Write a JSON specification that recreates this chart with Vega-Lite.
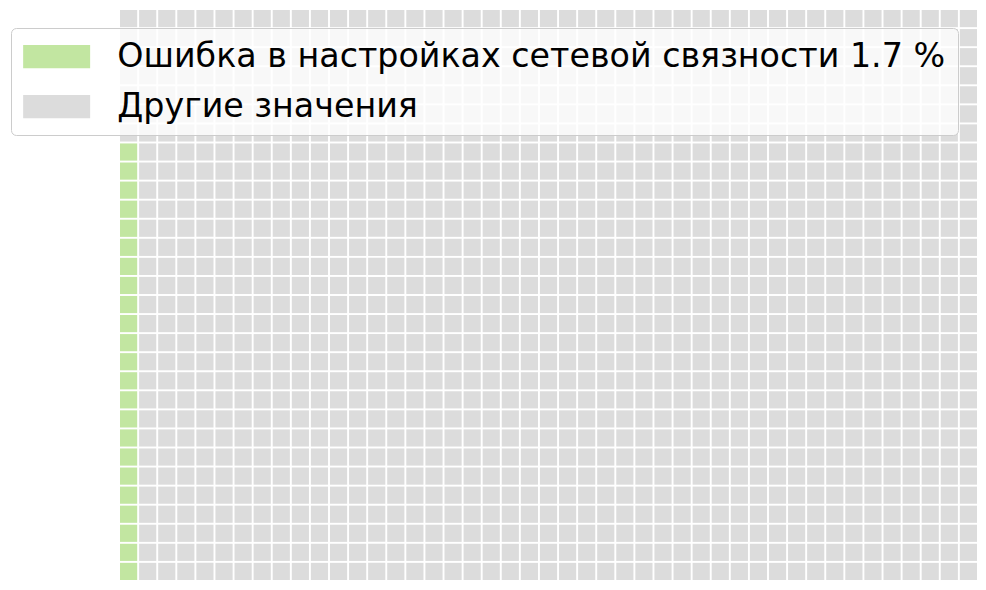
{
"$schema":"https://vega.github.io/schema/vega-lite/v6.json",
"width":857,"height":570,
"autosize":{"type":"none"},
"padding":{"left":120,"top":10,"right":9,"bottom":10},
"background":"white",
"datasets":{"cats":[{"k":1,"name":"Ошибка в настройках сетевой связности 1.7 %"},{"k":0,"name":"Другие значения"}]},
"data":{"values":[
{"c":0,"r":0,"k":0},{"c":0,"r":1,"k":0},{"c":0,"r":2,"k":0},{"c":0,"r":3,"k":0},{"c":0,"r":4,"k":0},{"c":0,"r":5,"k":0},{"c":0,"r":6,"k":0},{"c":0,"r":7,"k":1},{"c":0,"r":8,"k":1},{"c":0,"r":9,"k":1},{"c":0,"r":10,"k":1},{"c":0,"r":11,"k":1},{"c":0,"r":12,"k":1},{"c":0,"r":13,"k":1},{"c":0,"r":14,"k":1},{"c":0,"r":15,"k":1},{"c":0,"r":16,"k":1},{"c":0,"r":17,"k":1},{"c":0,"r":18,"k":1},{"c":0,"r":19,"k":1},{"c":0,"r":20,"k":1},{"c":0,"r":21,"k":1},{"c":0,"r":22,"k":1},{"c":0,"r":23,"k":1},{"c":0,"r":24,"k":1},{"c":0,"r":25,"k":1},{"c":0,"r":26,"k":1},{"c":0,"r":27,"k":1},{"c":0,"r":28,"k":1},{"c":0,"r":29,"k":1},
{"c":1,"r":0,"k":0},{"c":1,"r":1,"k":0},{"c":1,"r":2,"k":0},{"c":1,"r":3,"k":0},{"c":1,"r":4,"k":0},{"c":1,"r":5,"k":0},{"c":1,"r":6,"k":0},{"c":1,"r":7,"k":0},{"c":1,"r":8,"k":0},{"c":1,"r":9,"k":0},{"c":1,"r":10,"k":0},{"c":1,"r":11,"k":0},{"c":1,"r":12,"k":0},{"c":1,"r":13,"k":0},{"c":1,"r":14,"k":0},{"c":1,"r":15,"k":0},{"c":1,"r":16,"k":0},{"c":1,"r":17,"k":0},{"c":1,"r":18,"k":0},{"c":1,"r":19,"k":0},{"c":1,"r":20,"k":0},{"c":1,"r":21,"k":0},{"c":1,"r":22,"k":0},{"c":1,"r":23,"k":0},{"c":1,"r":24,"k":0},{"c":1,"r":25,"k":0},{"c":1,"r":26,"k":0},{"c":1,"r":27,"k":0},{"c":1,"r":28,"k":0},{"c":1,"r":29,"k":0},
{"c":2,"r":0,"k":0},{"c":2,"r":1,"k":0},{"c":2,"r":2,"k":0},{"c":2,"r":3,"k":0},{"c":2,"r":4,"k":0},{"c":2,"r":5,"k":0},{"c":2,"r":6,"k":0},{"c":2,"r":7,"k":0},{"c":2,"r":8,"k":0},{"c":2,"r":9,"k":0},{"c":2,"r":10,"k":0},{"c":2,"r":11,"k":0},{"c":2,"r":12,"k":0},{"c":2,"r":13,"k":0},{"c":2,"r":14,"k":0},{"c":2,"r":15,"k":0},{"c":2,"r":16,"k":0},{"c":2,"r":17,"k":0},{"c":2,"r":18,"k":0},{"c":2,"r":19,"k":0},{"c":2,"r":20,"k":0},{"c":2,"r":21,"k":0},{"c":2,"r":22,"k":0},{"c":2,"r":23,"k":0},{"c":2,"r":24,"k":0},{"c":2,"r":25,"k":0},{"c":2,"r":26,"k":0},{"c":2,"r":27,"k":0},{"c":2,"r":28,"k":0},{"c":2,"r":29,"k":0},
{"c":3,"r":0,"k":0},{"c":3,"r":1,"k":0},{"c":3,"r":2,"k":0},{"c":3,"r":3,"k":0},{"c":3,"r":4,"k":0},{"c":3,"r":5,"k":0},{"c":3,"r":6,"k":0},{"c":3,"r":7,"k":0},{"c":3,"r":8,"k":0},{"c":3,"r":9,"k":0},{"c":3,"r":10,"k":0},{"c":3,"r":11,"k":0},{"c":3,"r":12,"k":0},{"c":3,"r":13,"k":0},{"c":3,"r":14,"k":0},{"c":3,"r":15,"k":0},{"c":3,"r":16,"k":0},{"c":3,"r":17,"k":0},{"c":3,"r":18,"k":0},{"c":3,"r":19,"k":0},{"c":3,"r":20,"k":0},{"c":3,"r":21,"k":0},{"c":3,"r":22,"k":0},{"c":3,"r":23,"k":0},{"c":3,"r":24,"k":0},{"c":3,"r":25,"k":0},{"c":3,"r":26,"k":0},{"c":3,"r":27,"k":0},{"c":3,"r":28,"k":0},{"c":3,"r":29,"k":0},
{"c":4,"r":0,"k":0},{"c":4,"r":1,"k":0},{"c":4,"r":2,"k":0},{"c":4,"r":3,"k":0},{"c":4,"r":4,"k":0},{"c":4,"r":5,"k":0},{"c":4,"r":6,"k":0},{"c":4,"r":7,"k":0},{"c":4,"r":8,"k":0},{"c":4,"r":9,"k":0},{"c":4,"r":10,"k":0},{"c":4,"r":11,"k":0},{"c":4,"r":12,"k":0},{"c":4,"r":13,"k":0},{"c":4,"r":14,"k":0},{"c":4,"r":15,"k":0},{"c":4,"r":16,"k":0},{"c":4,"r":17,"k":0},{"c":4,"r":18,"k":0},{"c":4,"r":19,"k":0},{"c":4,"r":20,"k":0},{"c":4,"r":21,"k":0},{"c":4,"r":22,"k":0},{"c":4,"r":23,"k":0},{"c":4,"r":24,"k":0},{"c":4,"r":25,"k":0},{"c":4,"r":26,"k":0},{"c":4,"r":27,"k":0},{"c":4,"r":28,"k":0},{"c":4,"r":29,"k":0},
{"c":5,"r":0,"k":0},{"c":5,"r":1,"k":0},{"c":5,"r":2,"k":0},{"c":5,"r":3,"k":0},{"c":5,"r":4,"k":0},{"c":5,"r":5,"k":0},{"c":5,"r":6,"k":0},{"c":5,"r":7,"k":0},{"c":5,"r":8,"k":0},{"c":5,"r":9,"k":0},{"c":5,"r":10,"k":0},{"c":5,"r":11,"k":0},{"c":5,"r":12,"k":0},{"c":5,"r":13,"k":0},{"c":5,"r":14,"k":0},{"c":5,"r":15,"k":0},{"c":5,"r":16,"k":0},{"c":5,"r":17,"k":0},{"c":5,"r":18,"k":0},{"c":5,"r":19,"k":0},{"c":5,"r":20,"k":0},{"c":5,"r":21,"k":0},{"c":5,"r":22,"k":0},{"c":5,"r":23,"k":0},{"c":5,"r":24,"k":0},{"c":5,"r":25,"k":0},{"c":5,"r":26,"k":0},{"c":5,"r":27,"k":0},{"c":5,"r":28,"k":0},{"c":5,"r":29,"k":0},
{"c":6,"r":0,"k":0},{"c":6,"r":1,"k":0},{"c":6,"r":2,"k":0},{"c":6,"r":3,"k":0},{"c":6,"r":4,"k":0},{"c":6,"r":5,"k":0},{"c":6,"r":6,"k":0},{"c":6,"r":7,"k":0},{"c":6,"r":8,"k":0},{"c":6,"r":9,"k":0},{"c":6,"r":10,"k":0},{"c":6,"r":11,"k":0},{"c":6,"r":12,"k":0},{"c":6,"r":13,"k":0},{"c":6,"r":14,"k":0},{"c":6,"r":15,"k":0},{"c":6,"r":16,"k":0},{"c":6,"r":17,"k":0},{"c":6,"r":18,"k":0},{"c":6,"r":19,"k":0},{"c":6,"r":20,"k":0},{"c":6,"r":21,"k":0},{"c":6,"r":22,"k":0},{"c":6,"r":23,"k":0},{"c":6,"r":24,"k":0},{"c":6,"r":25,"k":0},{"c":6,"r":26,"k":0},{"c":6,"r":27,"k":0},{"c":6,"r":28,"k":0},{"c":6,"r":29,"k":0},
{"c":7,"r":0,"k":0},{"c":7,"r":1,"k":0},{"c":7,"r":2,"k":0},{"c":7,"r":3,"k":0},{"c":7,"r":4,"k":0},{"c":7,"r":5,"k":0},{"c":7,"r":6,"k":0},{"c":7,"r":7,"k":0},{"c":7,"r":8,"k":0},{"c":7,"r":9,"k":0},{"c":7,"r":10,"k":0},{"c":7,"r":11,"k":0},{"c":7,"r":12,"k":0},{"c":7,"r":13,"k":0},{"c":7,"r":14,"k":0},{"c":7,"r":15,"k":0},{"c":7,"r":16,"k":0},{"c":7,"r":17,"k":0},{"c":7,"r":18,"k":0},{"c":7,"r":19,"k":0},{"c":7,"r":20,"k":0},{"c":7,"r":21,"k":0},{"c":7,"r":22,"k":0},{"c":7,"r":23,"k":0},{"c":7,"r":24,"k":0},{"c":7,"r":25,"k":0},{"c":7,"r":26,"k":0},{"c":7,"r":27,"k":0},{"c":7,"r":28,"k":0},{"c":7,"r":29,"k":0},
{"c":8,"r":0,"k":0},{"c":8,"r":1,"k":0},{"c":8,"r":2,"k":0},{"c":8,"r":3,"k":0},{"c":8,"r":4,"k":0},{"c":8,"r":5,"k":0},{"c":8,"r":6,"k":0},{"c":8,"r":7,"k":0},{"c":8,"r":8,"k":0},{"c":8,"r":9,"k":0},{"c":8,"r":10,"k":0},{"c":8,"r":11,"k":0},{"c":8,"r":12,"k":0},{"c":8,"r":13,"k":0},{"c":8,"r":14,"k":0},{"c":8,"r":15,"k":0},{"c":8,"r":16,"k":0},{"c":8,"r":17,"k":0},{"c":8,"r":18,"k":0},{"c":8,"r":19,"k":0},{"c":8,"r":20,"k":0},{"c":8,"r":21,"k":0},{"c":8,"r":22,"k":0},{"c":8,"r":23,"k":0},{"c":8,"r":24,"k":0},{"c":8,"r":25,"k":0},{"c":8,"r":26,"k":0},{"c":8,"r":27,"k":0},{"c":8,"r":28,"k":0},{"c":8,"r":29,"k":0},
{"c":9,"r":0,"k":0},{"c":9,"r":1,"k":0},{"c":9,"r":2,"k":0},{"c":9,"r":3,"k":0},{"c":9,"r":4,"k":0},{"c":9,"r":5,"k":0},{"c":9,"r":6,"k":0},{"c":9,"r":7,"k":0},{"c":9,"r":8,"k":0},{"c":9,"r":9,"k":0},{"c":9,"r":10,"k":0},{"c":9,"r":11,"k":0},{"c":9,"r":12,"k":0},{"c":9,"r":13,"k":0},{"c":9,"r":14,"k":0},{"c":9,"r":15,"k":0},{"c":9,"r":16,"k":0},{"c":9,"r":17,"k":0},{"c":9,"r":18,"k":0},{"c":9,"r":19,"k":0},{"c":9,"r":20,"k":0},{"c":9,"r":21,"k":0},{"c":9,"r":22,"k":0},{"c":9,"r":23,"k":0},{"c":9,"r":24,"k":0},{"c":9,"r":25,"k":0},{"c":9,"r":26,"k":0},{"c":9,"r":27,"k":0},{"c":9,"r":28,"k":0},{"c":9,"r":29,"k":0},
{"c":10,"r":0,"k":0},{"c":10,"r":1,"k":0},{"c":10,"r":2,"k":0},{"c":10,"r":3,"k":0},{"c":10,"r":4,"k":0},{"c":10,"r":5,"k":0},{"c":10,"r":6,"k":0},{"c":10,"r":7,"k":0},{"c":10,"r":8,"k":0},{"c":10,"r":9,"k":0},{"c":10,"r":10,"k":0},{"c":10,"r":11,"k":0},{"c":10,"r":12,"k":0},{"c":10,"r":13,"k":0},{"c":10,"r":14,"k":0},{"c":10,"r":15,"k":0},{"c":10,"r":16,"k":0},{"c":10,"r":17,"k":0},{"c":10,"r":18,"k":0},{"c":10,"r":19,"k":0},{"c":10,"r":20,"k":0},{"c":10,"r":21,"k":0},{"c":10,"r":22,"k":0},{"c":10,"r":23,"k":0},{"c":10,"r":24,"k":0},{"c":10,"r":25,"k":0},{"c":10,"r":26,"k":0},{"c":10,"r":27,"k":0},{"c":10,"r":28,"k":0},{"c":10,"r":29,"k":0},
{"c":11,"r":0,"k":0},{"c":11,"r":1,"k":0},{"c":11,"r":2,"k":0},{"c":11,"r":3,"k":0},{"c":11,"r":4,"k":0},{"c":11,"r":5,"k":0},{"c":11,"r":6,"k":0},{"c":11,"r":7,"k":0},{"c":11,"r":8,"k":0},{"c":11,"r":9,"k":0},{"c":11,"r":10,"k":0},{"c":11,"r":11,"k":0},{"c":11,"r":12,"k":0},{"c":11,"r":13,"k":0},{"c":11,"r":14,"k":0},{"c":11,"r":15,"k":0},{"c":11,"r":16,"k":0},{"c":11,"r":17,"k":0},{"c":11,"r":18,"k":0},{"c":11,"r":19,"k":0},{"c":11,"r":20,"k":0},{"c":11,"r":21,"k":0},{"c":11,"r":22,"k":0},{"c":11,"r":23,"k":0},{"c":11,"r":24,"k":0},{"c":11,"r":25,"k":0},{"c":11,"r":26,"k":0},{"c":11,"r":27,"k":0},{"c":11,"r":28,"k":0},{"c":11,"r":29,"k":0},
{"c":12,"r":0,"k":0},{"c":12,"r":1,"k":0},{"c":12,"r":2,"k":0},{"c":12,"r":3,"k":0},{"c":12,"r":4,"k":0},{"c":12,"r":5,"k":0},{"c":12,"r":6,"k":0},{"c":12,"r":7,"k":0},{"c":12,"r":8,"k":0},{"c":12,"r":9,"k":0},{"c":12,"r":10,"k":0},{"c":12,"r":11,"k":0},{"c":12,"r":12,"k":0},{"c":12,"r":13,"k":0},{"c":12,"r":14,"k":0},{"c":12,"r":15,"k":0},{"c":12,"r":16,"k":0},{"c":12,"r":17,"k":0},{"c":12,"r":18,"k":0},{"c":12,"r":19,"k":0},{"c":12,"r":20,"k":0},{"c":12,"r":21,"k":0},{"c":12,"r":22,"k":0},{"c":12,"r":23,"k":0},{"c":12,"r":24,"k":0},{"c":12,"r":25,"k":0},{"c":12,"r":26,"k":0},{"c":12,"r":27,"k":0},{"c":12,"r":28,"k":0},{"c":12,"r":29,"k":0},
{"c":13,"r":0,"k":0},{"c":13,"r":1,"k":0},{"c":13,"r":2,"k":0},{"c":13,"r":3,"k":0},{"c":13,"r":4,"k":0},{"c":13,"r":5,"k":0},{"c":13,"r":6,"k":0},{"c":13,"r":7,"k":0},{"c":13,"r":8,"k":0},{"c":13,"r":9,"k":0},{"c":13,"r":10,"k":0},{"c":13,"r":11,"k":0},{"c":13,"r":12,"k":0},{"c":13,"r":13,"k":0},{"c":13,"r":14,"k":0},{"c":13,"r":15,"k":0},{"c":13,"r":16,"k":0},{"c":13,"r":17,"k":0},{"c":13,"r":18,"k":0},{"c":13,"r":19,"k":0},{"c":13,"r":20,"k":0},{"c":13,"r":21,"k":0},{"c":13,"r":22,"k":0},{"c":13,"r":23,"k":0},{"c":13,"r":24,"k":0},{"c":13,"r":25,"k":0},{"c":13,"r":26,"k":0},{"c":13,"r":27,"k":0},{"c":13,"r":28,"k":0},{"c":13,"r":29,"k":0},
{"c":14,"r":0,"k":0},{"c":14,"r":1,"k":0},{"c":14,"r":2,"k":0},{"c":14,"r":3,"k":0},{"c":14,"r":4,"k":0},{"c":14,"r":5,"k":0},{"c":14,"r":6,"k":0},{"c":14,"r":7,"k":0},{"c":14,"r":8,"k":0},{"c":14,"r":9,"k":0},{"c":14,"r":10,"k":0},{"c":14,"r":11,"k":0},{"c":14,"r":12,"k":0},{"c":14,"r":13,"k":0},{"c":14,"r":14,"k":0},{"c":14,"r":15,"k":0},{"c":14,"r":16,"k":0},{"c":14,"r":17,"k":0},{"c":14,"r":18,"k":0},{"c":14,"r":19,"k":0},{"c":14,"r":20,"k":0},{"c":14,"r":21,"k":0},{"c":14,"r":22,"k":0},{"c":14,"r":23,"k":0},{"c":14,"r":24,"k":0},{"c":14,"r":25,"k":0},{"c":14,"r":26,"k":0},{"c":14,"r":27,"k":0},{"c":14,"r":28,"k":0},{"c":14,"r":29,"k":0},
{"c":15,"r":0,"k":0},{"c":15,"r":1,"k":0},{"c":15,"r":2,"k":0},{"c":15,"r":3,"k":0},{"c":15,"r":4,"k":0},{"c":15,"r":5,"k":0},{"c":15,"r":6,"k":0},{"c":15,"r":7,"k":0},{"c":15,"r":8,"k":0},{"c":15,"r":9,"k":0},{"c":15,"r":10,"k":0},{"c":15,"r":11,"k":0},{"c":15,"r":12,"k":0},{"c":15,"r":13,"k":0},{"c":15,"r":14,"k":0},{"c":15,"r":15,"k":0},{"c":15,"r":16,"k":0},{"c":15,"r":17,"k":0},{"c":15,"r":18,"k":0},{"c":15,"r":19,"k":0},{"c":15,"r":20,"k":0},{"c":15,"r":21,"k":0},{"c":15,"r":22,"k":0},{"c":15,"r":23,"k":0},{"c":15,"r":24,"k":0},{"c":15,"r":25,"k":0},{"c":15,"r":26,"k":0},{"c":15,"r":27,"k":0},{"c":15,"r":28,"k":0},{"c":15,"r":29,"k":0},
{"c":16,"r":0,"k":0},{"c":16,"r":1,"k":0},{"c":16,"r":2,"k":0},{"c":16,"r":3,"k":0},{"c":16,"r":4,"k":0},{"c":16,"r":5,"k":0},{"c":16,"r":6,"k":0},{"c":16,"r":7,"k":0},{"c":16,"r":8,"k":0},{"c":16,"r":9,"k":0},{"c":16,"r":10,"k":0},{"c":16,"r":11,"k":0},{"c":16,"r":12,"k":0},{"c":16,"r":13,"k":0},{"c":16,"r":14,"k":0},{"c":16,"r":15,"k":0},{"c":16,"r":16,"k":0},{"c":16,"r":17,"k":0},{"c":16,"r":18,"k":0},{"c":16,"r":19,"k":0},{"c":16,"r":20,"k":0},{"c":16,"r":21,"k":0},{"c":16,"r":22,"k":0},{"c":16,"r":23,"k":0},{"c":16,"r":24,"k":0},{"c":16,"r":25,"k":0},{"c":16,"r":26,"k":0},{"c":16,"r":27,"k":0},{"c":16,"r":28,"k":0},{"c":16,"r":29,"k":0},
{"c":17,"r":0,"k":0},{"c":17,"r":1,"k":0},{"c":17,"r":2,"k":0},{"c":17,"r":3,"k":0},{"c":17,"r":4,"k":0},{"c":17,"r":5,"k":0},{"c":17,"r":6,"k":0},{"c":17,"r":7,"k":0},{"c":17,"r":8,"k":0},{"c":17,"r":9,"k":0},{"c":17,"r":10,"k":0},{"c":17,"r":11,"k":0},{"c":17,"r":12,"k":0},{"c":17,"r":13,"k":0},{"c":17,"r":14,"k":0},{"c":17,"r":15,"k":0},{"c":17,"r":16,"k":0},{"c":17,"r":17,"k":0},{"c":17,"r":18,"k":0},{"c":17,"r":19,"k":0},{"c":17,"r":20,"k":0},{"c":17,"r":21,"k":0},{"c":17,"r":22,"k":0},{"c":17,"r":23,"k":0},{"c":17,"r":24,"k":0},{"c":17,"r":25,"k":0},{"c":17,"r":26,"k":0},{"c":17,"r":27,"k":0},{"c":17,"r":28,"k":0},{"c":17,"r":29,"k":0},
{"c":18,"r":0,"k":0},{"c":18,"r":1,"k":0},{"c":18,"r":2,"k":0},{"c":18,"r":3,"k":0},{"c":18,"r":4,"k":0},{"c":18,"r":5,"k":0},{"c":18,"r":6,"k":0},{"c":18,"r":7,"k":0},{"c":18,"r":8,"k":0},{"c":18,"r":9,"k":0},{"c":18,"r":10,"k":0},{"c":18,"r":11,"k":0},{"c":18,"r":12,"k":0},{"c":18,"r":13,"k":0},{"c":18,"r":14,"k":0},{"c":18,"r":15,"k":0},{"c":18,"r":16,"k":0},{"c":18,"r":17,"k":0},{"c":18,"r":18,"k":0},{"c":18,"r":19,"k":0},{"c":18,"r":20,"k":0},{"c":18,"r":21,"k":0},{"c":18,"r":22,"k":0},{"c":18,"r":23,"k":0},{"c":18,"r":24,"k":0},{"c":18,"r":25,"k":0},{"c":18,"r":26,"k":0},{"c":18,"r":27,"k":0},{"c":18,"r":28,"k":0},{"c":18,"r":29,"k":0},
{"c":19,"r":0,"k":0},{"c":19,"r":1,"k":0},{"c":19,"r":2,"k":0},{"c":19,"r":3,"k":0},{"c":19,"r":4,"k":0},{"c":19,"r":5,"k":0},{"c":19,"r":6,"k":0},{"c":19,"r":7,"k":0},{"c":19,"r":8,"k":0},{"c":19,"r":9,"k":0},{"c":19,"r":10,"k":0},{"c":19,"r":11,"k":0},{"c":19,"r":12,"k":0},{"c":19,"r":13,"k":0},{"c":19,"r":14,"k":0},{"c":19,"r":15,"k":0},{"c":19,"r":16,"k":0},{"c":19,"r":17,"k":0},{"c":19,"r":18,"k":0},{"c":19,"r":19,"k":0},{"c":19,"r":20,"k":0},{"c":19,"r":21,"k":0},{"c":19,"r":22,"k":0},{"c":19,"r":23,"k":0},{"c":19,"r":24,"k":0},{"c":19,"r":25,"k":0},{"c":19,"r":26,"k":0},{"c":19,"r":27,"k":0},{"c":19,"r":28,"k":0},{"c":19,"r":29,"k":0},
{"c":20,"r":0,"k":0},{"c":20,"r":1,"k":0},{"c":20,"r":2,"k":0},{"c":20,"r":3,"k":0},{"c":20,"r":4,"k":0},{"c":20,"r":5,"k":0},{"c":20,"r":6,"k":0},{"c":20,"r":7,"k":0},{"c":20,"r":8,"k":0},{"c":20,"r":9,"k":0},{"c":20,"r":10,"k":0},{"c":20,"r":11,"k":0},{"c":20,"r":12,"k":0},{"c":20,"r":13,"k":0},{"c":20,"r":14,"k":0},{"c":20,"r":15,"k":0},{"c":20,"r":16,"k":0},{"c":20,"r":17,"k":0},{"c":20,"r":18,"k":0},{"c":20,"r":19,"k":0},{"c":20,"r":20,"k":0},{"c":20,"r":21,"k":0},{"c":20,"r":22,"k":0},{"c":20,"r":23,"k":0},{"c":20,"r":24,"k":0},{"c":20,"r":25,"k":0},{"c":20,"r":26,"k":0},{"c":20,"r":27,"k":0},{"c":20,"r":28,"k":0},{"c":20,"r":29,"k":0},
{"c":21,"r":0,"k":0},{"c":21,"r":1,"k":0},{"c":21,"r":2,"k":0},{"c":21,"r":3,"k":0},{"c":21,"r":4,"k":0},{"c":21,"r":5,"k":0},{"c":21,"r":6,"k":0},{"c":21,"r":7,"k":0},{"c":21,"r":8,"k":0},{"c":21,"r":9,"k":0},{"c":21,"r":10,"k":0},{"c":21,"r":11,"k":0},{"c":21,"r":12,"k":0},{"c":21,"r":13,"k":0},{"c":21,"r":14,"k":0},{"c":21,"r":15,"k":0},{"c":21,"r":16,"k":0},{"c":21,"r":17,"k":0},{"c":21,"r":18,"k":0},{"c":21,"r":19,"k":0},{"c":21,"r":20,"k":0},{"c":21,"r":21,"k":0},{"c":21,"r":22,"k":0},{"c":21,"r":23,"k":0},{"c":21,"r":24,"k":0},{"c":21,"r":25,"k":0},{"c":21,"r":26,"k":0},{"c":21,"r":27,"k":0},{"c":21,"r":28,"k":0},{"c":21,"r":29,"k":0},
{"c":22,"r":0,"k":0},{"c":22,"r":1,"k":0},{"c":22,"r":2,"k":0},{"c":22,"r":3,"k":0},{"c":22,"r":4,"k":0},{"c":22,"r":5,"k":0},{"c":22,"r":6,"k":0},{"c":22,"r":7,"k":0},{"c":22,"r":8,"k":0},{"c":22,"r":9,"k":0},{"c":22,"r":10,"k":0},{"c":22,"r":11,"k":0},{"c":22,"r":12,"k":0},{"c":22,"r":13,"k":0},{"c":22,"r":14,"k":0},{"c":22,"r":15,"k":0},{"c":22,"r":16,"k":0},{"c":22,"r":17,"k":0},{"c":22,"r":18,"k":0},{"c":22,"r":19,"k":0},{"c":22,"r":20,"k":0},{"c":22,"r":21,"k":0},{"c":22,"r":22,"k":0},{"c":22,"r":23,"k":0},{"c":22,"r":24,"k":0},{"c":22,"r":25,"k":0},{"c":22,"r":26,"k":0},{"c":22,"r":27,"k":0},{"c":22,"r":28,"k":0},{"c":22,"r":29,"k":0},
{"c":23,"r":0,"k":0},{"c":23,"r":1,"k":0},{"c":23,"r":2,"k":0},{"c":23,"r":3,"k":0},{"c":23,"r":4,"k":0},{"c":23,"r":5,"k":0},{"c":23,"r":6,"k":0},{"c":23,"r":7,"k":0},{"c":23,"r":8,"k":0},{"c":23,"r":9,"k":0},{"c":23,"r":10,"k":0},{"c":23,"r":11,"k":0},{"c":23,"r":12,"k":0},{"c":23,"r":13,"k":0},{"c":23,"r":14,"k":0},{"c":23,"r":15,"k":0},{"c":23,"r":16,"k":0},{"c":23,"r":17,"k":0},{"c":23,"r":18,"k":0},{"c":23,"r":19,"k":0},{"c":23,"r":20,"k":0},{"c":23,"r":21,"k":0},{"c":23,"r":22,"k":0},{"c":23,"r":23,"k":0},{"c":23,"r":24,"k":0},{"c":23,"r":25,"k":0},{"c":23,"r":26,"k":0},{"c":23,"r":27,"k":0},{"c":23,"r":28,"k":0},{"c":23,"r":29,"k":0},
{"c":24,"r":0,"k":0},{"c":24,"r":1,"k":0},{"c":24,"r":2,"k":0},{"c":24,"r":3,"k":0},{"c":24,"r":4,"k":0},{"c":24,"r":5,"k":0},{"c":24,"r":6,"k":0},{"c":24,"r":7,"k":0},{"c":24,"r":8,"k":0},{"c":24,"r":9,"k":0},{"c":24,"r":10,"k":0},{"c":24,"r":11,"k":0},{"c":24,"r":12,"k":0},{"c":24,"r":13,"k":0},{"c":24,"r":14,"k":0},{"c":24,"r":15,"k":0},{"c":24,"r":16,"k":0},{"c":24,"r":17,"k":0},{"c":24,"r":18,"k":0},{"c":24,"r":19,"k":0},{"c":24,"r":20,"k":0},{"c":24,"r":21,"k":0},{"c":24,"r":22,"k":0},{"c":24,"r":23,"k":0},{"c":24,"r":24,"k":0},{"c":24,"r":25,"k":0},{"c":24,"r":26,"k":0},{"c":24,"r":27,"k":0},{"c":24,"r":28,"k":0},{"c":24,"r":29,"k":0},
{"c":25,"r":0,"k":0},{"c":25,"r":1,"k":0},{"c":25,"r":2,"k":0},{"c":25,"r":3,"k":0},{"c":25,"r":4,"k":0},{"c":25,"r":5,"k":0},{"c":25,"r":6,"k":0},{"c":25,"r":7,"k":0},{"c":25,"r":8,"k":0},{"c":25,"r":9,"k":0},{"c":25,"r":10,"k":0},{"c":25,"r":11,"k":0},{"c":25,"r":12,"k":0},{"c":25,"r":13,"k":0},{"c":25,"r":14,"k":0},{"c":25,"r":15,"k":0},{"c":25,"r":16,"k":0},{"c":25,"r":17,"k":0},{"c":25,"r":18,"k":0},{"c":25,"r":19,"k":0},{"c":25,"r":20,"k":0},{"c":25,"r":21,"k":0},{"c":25,"r":22,"k":0},{"c":25,"r":23,"k":0},{"c":25,"r":24,"k":0},{"c":25,"r":25,"k":0},{"c":25,"r":26,"k":0},{"c":25,"r":27,"k":0},{"c":25,"r":28,"k":0},{"c":25,"r":29,"k":0},
{"c":26,"r":0,"k":0},{"c":26,"r":1,"k":0},{"c":26,"r":2,"k":0},{"c":26,"r":3,"k":0},{"c":26,"r":4,"k":0},{"c":26,"r":5,"k":0},{"c":26,"r":6,"k":0},{"c":26,"r":7,"k":0},{"c":26,"r":8,"k":0},{"c":26,"r":9,"k":0},{"c":26,"r":10,"k":0},{"c":26,"r":11,"k":0},{"c":26,"r":12,"k":0},{"c":26,"r":13,"k":0},{"c":26,"r":14,"k":0},{"c":26,"r":15,"k":0},{"c":26,"r":16,"k":0},{"c":26,"r":17,"k":0},{"c":26,"r":18,"k":0},{"c":26,"r":19,"k":0},{"c":26,"r":20,"k":0},{"c":26,"r":21,"k":0},{"c":26,"r":22,"k":0},{"c":26,"r":23,"k":0},{"c":26,"r":24,"k":0},{"c":26,"r":25,"k":0},{"c":26,"r":26,"k":0},{"c":26,"r":27,"k":0},{"c":26,"r":28,"k":0},{"c":26,"r":29,"k":0},
{"c":27,"r":0,"k":0},{"c":27,"r":1,"k":0},{"c":27,"r":2,"k":0},{"c":27,"r":3,"k":0},{"c":27,"r":4,"k":0},{"c":27,"r":5,"k":0},{"c":27,"r":6,"k":0},{"c":27,"r":7,"k":0},{"c":27,"r":8,"k":0},{"c":27,"r":9,"k":0},{"c":27,"r":10,"k":0},{"c":27,"r":11,"k":0},{"c":27,"r":12,"k":0},{"c":27,"r":13,"k":0},{"c":27,"r":14,"k":0},{"c":27,"r":15,"k":0},{"c":27,"r":16,"k":0},{"c":27,"r":17,"k":0},{"c":27,"r":18,"k":0},{"c":27,"r":19,"k":0},{"c":27,"r":20,"k":0},{"c":27,"r":21,"k":0},{"c":27,"r":22,"k":0},{"c":27,"r":23,"k":0},{"c":27,"r":24,"k":0},{"c":27,"r":25,"k":0},{"c":27,"r":26,"k":0},{"c":27,"r":27,"k":0},{"c":27,"r":28,"k":0},{"c":27,"r":29,"k":0},
{"c":28,"r":0,"k":0},{"c":28,"r":1,"k":0},{"c":28,"r":2,"k":0},{"c":28,"r":3,"k":0},{"c":28,"r":4,"k":0},{"c":28,"r":5,"k":0},{"c":28,"r":6,"k":0},{"c":28,"r":7,"k":0},{"c":28,"r":8,"k":0},{"c":28,"r":9,"k":0},{"c":28,"r":10,"k":0},{"c":28,"r":11,"k":0},{"c":28,"r":12,"k":0},{"c":28,"r":13,"k":0},{"c":28,"r":14,"k":0},{"c":28,"r":15,"k":0},{"c":28,"r":16,"k":0},{"c":28,"r":17,"k":0},{"c":28,"r":18,"k":0},{"c":28,"r":19,"k":0},{"c":28,"r":20,"k":0},{"c":28,"r":21,"k":0},{"c":28,"r":22,"k":0},{"c":28,"r":23,"k":0},{"c":28,"r":24,"k":0},{"c":28,"r":25,"k":0},{"c":28,"r":26,"k":0},{"c":28,"r":27,"k":0},{"c":28,"r":28,"k":0},{"c":28,"r":29,"k":0},
{"c":29,"r":0,"k":0},{"c":29,"r":1,"k":0},{"c":29,"r":2,"k":0},{"c":29,"r":3,"k":0},{"c":29,"r":4,"k":0},{"c":29,"r":5,"k":0},{"c":29,"r":6,"k":0},{"c":29,"r":7,"k":0},{"c":29,"r":8,"k":0},{"c":29,"r":9,"k":0},{"c":29,"r":10,"k":0},{"c":29,"r":11,"k":0},{"c":29,"r":12,"k":0},{"c":29,"r":13,"k":0},{"c":29,"r":14,"k":0},{"c":29,"r":15,"k":0},{"c":29,"r":16,"k":0},{"c":29,"r":17,"k":0},{"c":29,"r":18,"k":0},{"c":29,"r":19,"k":0},{"c":29,"r":20,"k":0},{"c":29,"r":21,"k":0},{"c":29,"r":22,"k":0},{"c":29,"r":23,"k":0},{"c":29,"r":24,"k":0},{"c":29,"r":25,"k":0},{"c":29,"r":26,"k":0},{"c":29,"r":27,"k":0},{"c":29,"r":28,"k":0},{"c":29,"r":29,"k":0},
{"c":30,"r":0,"k":0},{"c":30,"r":1,"k":0},{"c":30,"r":2,"k":0},{"c":30,"r":3,"k":0},{"c":30,"r":4,"k":0},{"c":30,"r":5,"k":0},{"c":30,"r":6,"k":0},{"c":30,"r":7,"k":0},{"c":30,"r":8,"k":0},{"c":30,"r":9,"k":0},{"c":30,"r":10,"k":0},{"c":30,"r":11,"k":0},{"c":30,"r":12,"k":0},{"c":30,"r":13,"k":0},{"c":30,"r":14,"k":0},{"c":30,"r":15,"k":0},{"c":30,"r":16,"k":0},{"c":30,"r":17,"k":0},{"c":30,"r":18,"k":0},{"c":30,"r":19,"k":0},{"c":30,"r":20,"k":0},{"c":30,"r":21,"k":0},{"c":30,"r":22,"k":0},{"c":30,"r":23,"k":0},{"c":30,"r":24,"k":0},{"c":30,"r":25,"k":0},{"c":30,"r":26,"k":0},{"c":30,"r":27,"k":0},{"c":30,"r":28,"k":0},{"c":30,"r":29,"k":0},
{"c":31,"r":0,"k":0},{"c":31,"r":1,"k":0},{"c":31,"r":2,"k":0},{"c":31,"r":3,"k":0},{"c":31,"r":4,"k":0},{"c":31,"r":5,"k":0},{"c":31,"r":6,"k":0},{"c":31,"r":7,"k":0},{"c":31,"r":8,"k":0},{"c":31,"r":9,"k":0},{"c":31,"r":10,"k":0},{"c":31,"r":11,"k":0},{"c":31,"r":12,"k":0},{"c":31,"r":13,"k":0},{"c":31,"r":14,"k":0},{"c":31,"r":15,"k":0},{"c":31,"r":16,"k":0},{"c":31,"r":17,"k":0},{"c":31,"r":18,"k":0},{"c":31,"r":19,"k":0},{"c":31,"r":20,"k":0},{"c":31,"r":21,"k":0},{"c":31,"r":22,"k":0},{"c":31,"r":23,"k":0},{"c":31,"r":24,"k":0},{"c":31,"r":25,"k":0},{"c":31,"r":26,"k":0},{"c":31,"r":27,"k":0},{"c":31,"r":28,"k":0},{"c":31,"r":29,"k":0},
{"c":32,"r":0,"k":0},{"c":32,"r":1,"k":0},{"c":32,"r":2,"k":0},{"c":32,"r":3,"k":0},{"c":32,"r":4,"k":0},{"c":32,"r":5,"k":0},{"c":32,"r":6,"k":0},{"c":32,"r":7,"k":0},{"c":32,"r":8,"k":0},{"c":32,"r":9,"k":0},{"c":32,"r":10,"k":0},{"c":32,"r":11,"k":0},{"c":32,"r":12,"k":0},{"c":32,"r":13,"k":0},{"c":32,"r":14,"k":0},{"c":32,"r":15,"k":0},{"c":32,"r":16,"k":0},{"c":32,"r":17,"k":0},{"c":32,"r":18,"k":0},{"c":32,"r":19,"k":0},{"c":32,"r":20,"k":0},{"c":32,"r":21,"k":0},{"c":32,"r":22,"k":0},{"c":32,"r":23,"k":0},{"c":32,"r":24,"k":0},{"c":32,"r":25,"k":0},{"c":32,"r":26,"k":0},{"c":32,"r":27,"k":0},{"c":32,"r":28,"k":0},{"c":32,"r":29,"k":0},
{"c":33,"r":0,"k":0},{"c":33,"r":1,"k":0},{"c":33,"r":2,"k":0},{"c":33,"r":3,"k":0},{"c":33,"r":4,"k":0},{"c":33,"r":5,"k":0},{"c":33,"r":6,"k":0},{"c":33,"r":7,"k":0},{"c":33,"r":8,"k":0},{"c":33,"r":9,"k":0},{"c":33,"r":10,"k":0},{"c":33,"r":11,"k":0},{"c":33,"r":12,"k":0},{"c":33,"r":13,"k":0},{"c":33,"r":14,"k":0},{"c":33,"r":15,"k":0},{"c":33,"r":16,"k":0},{"c":33,"r":17,"k":0},{"c":33,"r":18,"k":0},{"c":33,"r":19,"k":0},{"c":33,"r":20,"k":0},{"c":33,"r":21,"k":0},{"c":33,"r":22,"k":0},{"c":33,"r":23,"k":0},{"c":33,"r":24,"k":0},{"c":33,"r":25,"k":0},{"c":33,"r":26,"k":0},{"c":33,"r":27,"k":0},{"c":33,"r":28,"k":0},{"c":33,"r":29,"k":0},
{"c":34,"r":0,"k":0},{"c":34,"r":1,"k":0},{"c":34,"r":2,"k":0},{"c":34,"r":3,"k":0},{"c":34,"r":4,"k":0},{"c":34,"r":5,"k":0},{"c":34,"r":6,"k":0},{"c":34,"r":7,"k":0},{"c":34,"r":8,"k":0},{"c":34,"r":9,"k":0},{"c":34,"r":10,"k":0},{"c":34,"r":11,"k":0},{"c":34,"r":12,"k":0},{"c":34,"r":13,"k":0},{"c":34,"r":14,"k":0},{"c":34,"r":15,"k":0},{"c":34,"r":16,"k":0},{"c":34,"r":17,"k":0},{"c":34,"r":18,"k":0},{"c":34,"r":19,"k":0},{"c":34,"r":20,"k":0},{"c":34,"r":21,"k":0},{"c":34,"r":22,"k":0},{"c":34,"r":23,"k":0},{"c":34,"r":24,"k":0},{"c":34,"r":25,"k":0},{"c":34,"r":26,"k":0},{"c":34,"r":27,"k":0},{"c":34,"r":28,"k":0},{"c":34,"r":29,"k":0},
{"c":35,"r":0,"k":0},{"c":35,"r":1,"k":0},{"c":35,"r":2,"k":0},{"c":35,"r":3,"k":0},{"c":35,"r":4,"k":0},{"c":35,"r":5,"k":0},{"c":35,"r":6,"k":0},{"c":35,"r":7,"k":0},{"c":35,"r":8,"k":0},{"c":35,"r":9,"k":0},{"c":35,"r":10,"k":0},{"c":35,"r":11,"k":0},{"c":35,"r":12,"k":0},{"c":35,"r":13,"k":0},{"c":35,"r":14,"k":0},{"c":35,"r":15,"k":0},{"c":35,"r":16,"k":0},{"c":35,"r":17,"k":0},{"c":35,"r":18,"k":0},{"c":35,"r":19,"k":0},{"c":35,"r":20,"k":0},{"c":35,"r":21,"k":0},{"c":35,"r":22,"k":0},{"c":35,"r":23,"k":0},{"c":35,"r":24,"k":0},{"c":35,"r":25,"k":0},{"c":35,"r":26,"k":0},{"c":35,"r":27,"k":0},{"c":35,"r":28,"k":0},{"c":35,"r":29,"k":0},
{"c":36,"r":0,"k":0},{"c":36,"r":1,"k":0},{"c":36,"r":2,"k":0},{"c":36,"r":3,"k":0},{"c":36,"r":4,"k":0},{"c":36,"r":5,"k":0},{"c":36,"r":6,"k":0},{"c":36,"r":7,"k":0},{"c":36,"r":8,"k":0},{"c":36,"r":9,"k":0},{"c":36,"r":10,"k":0},{"c":36,"r":11,"k":0},{"c":36,"r":12,"k":0},{"c":36,"r":13,"k":0},{"c":36,"r":14,"k":0},{"c":36,"r":15,"k":0},{"c":36,"r":16,"k":0},{"c":36,"r":17,"k":0},{"c":36,"r":18,"k":0},{"c":36,"r":19,"k":0},{"c":36,"r":20,"k":0},{"c":36,"r":21,"k":0},{"c":36,"r":22,"k":0},{"c":36,"r":23,"k":0},{"c":36,"r":24,"k":0},{"c":36,"r":25,"k":0},{"c":36,"r":26,"k":0},{"c":36,"r":27,"k":0},{"c":36,"r":28,"k":0},{"c":36,"r":29,"k":0},
{"c":37,"r":0,"k":0},{"c":37,"r":1,"k":0},{"c":37,"r":2,"k":0},{"c":37,"r":3,"k":0},{"c":37,"r":4,"k":0},{"c":37,"r":5,"k":0},{"c":37,"r":6,"k":0},{"c":37,"r":7,"k":0},{"c":37,"r":8,"k":0},{"c":37,"r":9,"k":0},{"c":37,"r":10,"k":0},{"c":37,"r":11,"k":0},{"c":37,"r":12,"k":0},{"c":37,"r":13,"k":0},{"c":37,"r":14,"k":0},{"c":37,"r":15,"k":0},{"c":37,"r":16,"k":0},{"c":37,"r":17,"k":0},{"c":37,"r":18,"k":0},{"c":37,"r":19,"k":0},{"c":37,"r":20,"k":0},{"c":37,"r":21,"k":0},{"c":37,"r":22,"k":0},{"c":37,"r":23,"k":0},{"c":37,"r":24,"k":0},{"c":37,"r":25,"k":0},{"c":37,"r":26,"k":0},{"c":37,"r":27,"k":0},{"c":37,"r":28,"k":0},{"c":37,"r":29,"k":0},
{"c":38,"r":0,"k":0},{"c":38,"r":1,"k":0},{"c":38,"r":2,"k":0},{"c":38,"r":3,"k":0},{"c":38,"r":4,"k":0},{"c":38,"r":5,"k":0},{"c":38,"r":6,"k":0},{"c":38,"r":7,"k":0},{"c":38,"r":8,"k":0},{"c":38,"r":9,"k":0},{"c":38,"r":10,"k":0},{"c":38,"r":11,"k":0},{"c":38,"r":12,"k":0},{"c":38,"r":13,"k":0},{"c":38,"r":14,"k":0},{"c":38,"r":15,"k":0},{"c":38,"r":16,"k":0},{"c":38,"r":17,"k":0},{"c":38,"r":18,"k":0},{"c":38,"r":19,"k":0},{"c":38,"r":20,"k":0},{"c":38,"r":21,"k":0},{"c":38,"r":22,"k":0},{"c":38,"r":23,"k":0},{"c":38,"r":24,"k":0},{"c":38,"r":25,"k":0},{"c":38,"r":26,"k":0},{"c":38,"r":27,"k":0},{"c":38,"r":28,"k":0},{"c":38,"r":29,"k":0},
{"c":39,"r":0,"k":0},{"c":39,"r":1,"k":0},{"c":39,"r":2,"k":0},{"c":39,"r":3,"k":0},{"c":39,"r":4,"k":0},{"c":39,"r":5,"k":0},{"c":39,"r":6,"k":0},{"c":39,"r":7,"k":0},{"c":39,"r":8,"k":0},{"c":39,"r":9,"k":0},{"c":39,"r":10,"k":0},{"c":39,"r":11,"k":0},{"c":39,"r":12,"k":0},{"c":39,"r":13,"k":0},{"c":39,"r":14,"k":0},{"c":39,"r":15,"k":0},{"c":39,"r":16,"k":0},{"c":39,"r":17,"k":0},{"c":39,"r":18,"k":0},{"c":39,"r":19,"k":0},{"c":39,"r":20,"k":0},{"c":39,"r":21,"k":0},{"c":39,"r":22,"k":0},{"c":39,"r":23,"k":0},{"c":39,"r":24,"k":0},{"c":39,"r":25,"k":0},{"c":39,"r":26,"k":0},{"c":39,"r":27,"k":0},{"c":39,"r":28,"k":0},{"c":39,"r":29,"k":0},
{"c":40,"r":0,"k":0},{"c":40,"r":1,"k":0},{"c":40,"r":2,"k":0},{"c":40,"r":3,"k":0},{"c":40,"r":4,"k":0},{"c":40,"r":5,"k":0},{"c":40,"r":6,"k":0},{"c":40,"r":7,"k":0},{"c":40,"r":8,"k":0},{"c":40,"r":9,"k":0},{"c":40,"r":10,"k":0},{"c":40,"r":11,"k":0},{"c":40,"r":12,"k":0},{"c":40,"r":13,"k":0},{"c":40,"r":14,"k":0},{"c":40,"r":15,"k":0},{"c":40,"r":16,"k":0},{"c":40,"r":17,"k":0},{"c":40,"r":18,"k":0},{"c":40,"r":19,"k":0},{"c":40,"r":20,"k":0},{"c":40,"r":21,"k":0},{"c":40,"r":22,"k":0},{"c":40,"r":23,"k":0},{"c":40,"r":24,"k":0},{"c":40,"r":25,"k":0},{"c":40,"r":26,"k":0},{"c":40,"r":27,"k":0},{"c":40,"r":28,"k":0},{"c":40,"r":29,"k":0},
{"c":41,"r":0,"k":0},{"c":41,"r":1,"k":0},{"c":41,"r":2,"k":0},{"c":41,"r":3,"k":0},{"c":41,"r":4,"k":0},{"c":41,"r":5,"k":0},{"c":41,"r":6,"k":0},{"c":41,"r":7,"k":0},{"c":41,"r":8,"k":0},{"c":41,"r":9,"k":0},{"c":41,"r":10,"k":0},{"c":41,"r":11,"k":0},{"c":41,"r":12,"k":0},{"c":41,"r":13,"k":0},{"c":41,"r":14,"k":0},{"c":41,"r":15,"k":0},{"c":41,"r":16,"k":0},{"c":41,"r":17,"k":0},{"c":41,"r":18,"k":0},{"c":41,"r":19,"k":0},{"c":41,"r":20,"k":0},{"c":41,"r":21,"k":0},{"c":41,"r":22,"k":0},{"c":41,"r":23,"k":0},{"c":41,"r":24,"k":0},{"c":41,"r":25,"k":0},{"c":41,"r":26,"k":0},{"c":41,"r":27,"k":0},{"c":41,"r":28,"k":0},{"c":41,"r":29,"k":0},
{"c":42,"r":0,"k":0},{"c":42,"r":1,"k":0},{"c":42,"r":2,"k":0},{"c":42,"r":3,"k":0},{"c":42,"r":4,"k":0},{"c":42,"r":5,"k":0},{"c":42,"r":6,"k":0},{"c":42,"r":7,"k":0},{"c":42,"r":8,"k":0},{"c":42,"r":9,"k":0},{"c":42,"r":10,"k":0},{"c":42,"r":11,"k":0},{"c":42,"r":12,"k":0},{"c":42,"r":13,"k":0},{"c":42,"r":14,"k":0},{"c":42,"r":15,"k":0},{"c":42,"r":16,"k":0},{"c":42,"r":17,"k":0},{"c":42,"r":18,"k":0},{"c":42,"r":19,"k":0},{"c":42,"r":20,"k":0},{"c":42,"r":21,"k":0},{"c":42,"r":22,"k":0},{"c":42,"r":23,"k":0},{"c":42,"r":24,"k":0},{"c":42,"r":25,"k":0},{"c":42,"r":26,"k":0},{"c":42,"r":27,"k":0},{"c":42,"r":28,"k":0},{"c":42,"r":29,"k":0},
{"c":43,"r":0,"k":0},{"c":43,"r":1,"k":0},{"c":43,"r":2,"k":0},{"c":43,"r":3,"k":0},{"c":43,"r":4,"k":0},{"c":43,"r":5,"k":0},{"c":43,"r":6,"k":0},{"c":43,"r":7,"k":0},{"c":43,"r":8,"k":0},{"c":43,"r":9,"k":0},{"c":43,"r":10,"k":0},{"c":43,"r":11,"k":0},{"c":43,"r":12,"k":0},{"c":43,"r":13,"k":0},{"c":43,"r":14,"k":0},{"c":43,"r":15,"k":0},{"c":43,"r":16,"k":0},{"c":43,"r":17,"k":0},{"c":43,"r":18,"k":0},{"c":43,"r":19,"k":0},{"c":43,"r":20,"k":0},{"c":43,"r":21,"k":0},{"c":43,"r":22,"k":0},{"c":43,"r":23,"k":0},{"c":43,"r":24,"k":0},{"c":43,"r":25,"k":0},{"c":43,"r":26,"k":0},{"c":43,"r":27,"k":0},{"c":43,"r":28,"k":0},{"c":43,"r":29,"k":0},
{"c":44,"r":0,"k":0},{"c":44,"r":1,"k":0},{"c":44,"r":2,"k":0},{"c":44,"r":3,"k":0},{"c":44,"r":4,"k":0},{"c":44,"r":5,"k":0},{"c":44,"r":6,"k":0},{"c":44,"r":7,"k":0},{"c":44,"r":8,"k":0},{"c":44,"r":9,"k":0},{"c":44,"r":10,"k":0},{"c":44,"r":11,"k":0},{"c":44,"r":12,"k":0},{"c":44,"r":13,"k":0},{"c":44,"r":14,"k":0},{"c":44,"r":15,"k":0},{"c":44,"r":16,"k":0},{"c":44,"r":17,"k":0},{"c":44,"r":18,"k":0},{"c":44,"r":19,"k":0},{"c":44,"r":20,"k":0},{"c":44,"r":21,"k":0},{"c":44,"r":22,"k":0},{"c":44,"r":23,"k":0},{"c":44,"r":24,"k":0},{"c":44,"r":25,"k":0},{"c":44,"r":26,"k":0},{"c":44,"r":27,"k":0},{"c":44,"r":28,"k":0},{"c":44,"r":29,"k":0}
]},
"transform":[{"lookup":"k","from":{"data":{"name":"cats"},"key":"k","fields":["name"]}}],
"mark":{"type":"rect"},
"encoding":{
"x":{"field":"c","type":"ordinal","axis":null,"scale":{"paddingInner":0.1,"paddingOuter":0}},
"y":{"field":"r","type":"ordinal","axis":null,"scale":{"paddingInner":0.1,"paddingOuter":0}},
"color":{"field":"name","type":"nominal",
"scale":{"domain":["Ошибка в настройках сетевой связности 1.7 %","Другие значения"],"range":["#c2e6a1","#dcdcdc"]},
"legend":{"orient":"none","legendX":-109,"legendY":18,"title":null,
"symbolType":"M-1,-0.706H3.06V0.706H-1Z","symbolSize":1089,"symbolStrokeWidth":0,"symbolOpacity":1,
"labelFont":"DejaVu Sans","labelFontSize":33.3,"labelColor":"black","labelLimit":0,"labelOffset":61,
"rowPadding":16,"padding":12,"fillColor":"rgba(255,255,255,0.8)","strokeColor":"#cccccc","cornerRadius":5}}
},
"config":{"view":{"stroke":null}}
}
